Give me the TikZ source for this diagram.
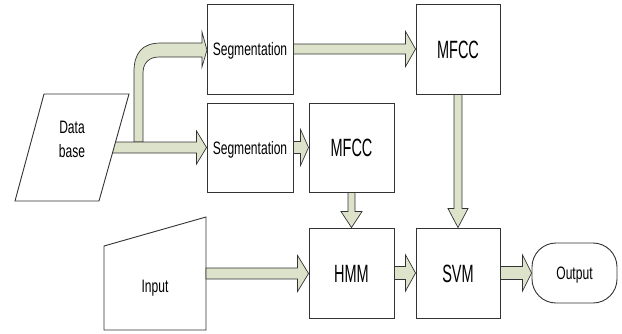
\documentclass[tikz,border=0pt]{standalone}
\usepackage{fontspec}
\setmainfont{Liberation Sans}
\newfontfamily\fsmallfam[FakeStretch=0.67]{Liberation Sans}
\newfontfamily\flargefam[FakeStretch=0.58]{Liberation Sans}
\usetikzlibrary{calc}
\definecolor{arrowfill}{HTML}{DDE3CB}
\definecolor{edgecol}{HTML}{333333}
\tikzset{
  box/.style={draw=edgecol, line width=0.9pt, fill=white, minimum width=86pt, minimum height=90pt, inner sep=0pt},
  smalltext/.style={font=\fsmallfam\fontsize{18}{23}\selectfont, text height=13pt, text depth=0pt},
  largetext/.style={font=\flargefam\fontsize{25}{30}\selectfont, text height=18pt, text depth=0pt},
  blockarrow/.style={draw=edgecol, line width=0.7pt, fill=arrowfill, line join=miter},
  shapeline/.style={draw=edgecol, line width=0.9pt, fill=white},
}
% horizontal block arrow: start, tip, shaft half width, head half width, head length
\newcommand\harr[5]{%
  \draw[blockarrow] let \p1=(#1), \p2=(#2) in
    (\x1,\y1+#3) -- (\x2-#5,\y1+#3) -- (\x2-#5,\y1+#4) -- (\x2,\y1)
    -- (\x2-#5,\y1-#4) -- (\x2-#5,\y1-#3) -- (\x1,\y1-#3) -- cycle;}
% vertical (downward) block arrow
\newcommand\varr[5]{%
  \draw[blockarrow] let \p1=(#1), \p2=(#2) in
    (\x1-#3,\y1) -- (\x1-#3,\y2+#5) -- (\x1-#4,\y2+#5) -- (\x1,\y2)
    -- (\x1+#4,\y2+#5) -- (\x1+#3,\y2+#5) -- (\x1+#3,\y1) -- cycle;}
\begin{document}
\begin{tikzpicture}[x=1pt,y=-1pt]
\useasboundingbox (0,0) rectangle (622,333);

% boxes
\node[box, smalltext] (seg1) at (250,49) {Segmentation};
\node[box, smalltext, minimum height=89pt] (seg2) at (250,147.5) {Segmentation};
\node[box, largetext, minimum width=84pt] (mfcc1) at (458,49) {MFCC};
\node[box, largetext, minimum width=85pt, minimum height=89pt] (mfcc2) at (351.5,147.5) {MFCC};
\node[box, largetext, minimum width=85pt] (hmm) at (351.5,273) {HMM};
\node[box, largetext, minimum width=84pt] (svm) at (458,273) {SVM};
\node[box, smalltext, minimum width=85pt, minimum height=60pt, rounded corners=24pt] (out) at (574.5,273) {Output};

% bent arrow from data base to upper segmentation
\draw[blockarrow] (134,142) -- (134,72) .. controls (134,53) and (142,43) .. (161,43)
  -- (202,43) -- (202,32) -- (207,50) -- (202,67) -- (202,57) -- (159,57)
  .. controls (149,57) and (143,63) .. (143,73) -- (143,142) -- cycle;

% data base -> lower segmentation
\coordinate (dbr) at (108,147.5);
\harr{dbr}{seg2.west}{5.5pt}{16.5pt}{10pt}

% data base parallelogram
\draw[shapeline] (44,94) -- (129,94) -- (99,201) -- (15,201) -- cycle;
\node[font=\fsmallfam\fontsize{18}{24}\selectfont, align=center, inner sep=0pt] (db) at (72,139) {Data\\base};

% input trapezoid
\draw[shapeline] (104,246) -- (206,217) -- (206,330) -- (104,330) -- cycle;
\node[font=\fsmallfam\fontsize{18}{23}\selectfont, anchor=base, inner sep=0pt] (inp) at (155,292) {Input};
\coordinate (inr) at (206,273.5);

% arrows
\harr{seg1.east}{mfcc1.west}{5pt}{17.5pt}{10pt}
\harr{seg2.east}{mfcc2.west}{6pt}{18pt}{8pt}
\harr{inr}{hmm.west}{5.5pt}{18pt}{11pt}
\harr{hmm.east}{svm.west}{6.5pt}{18pt}{10pt}
\harr{svm.east}{out.west}{6.5pt}{18pt}{9pt}
\varr{mfcc2.south}{hmm.north}{3.5pt}{10.5pt}{16pt}
\varr{mfcc1.south}{svm.north}{4pt}{10pt}{19pt}
\end{tikzpicture}
\end{document}
